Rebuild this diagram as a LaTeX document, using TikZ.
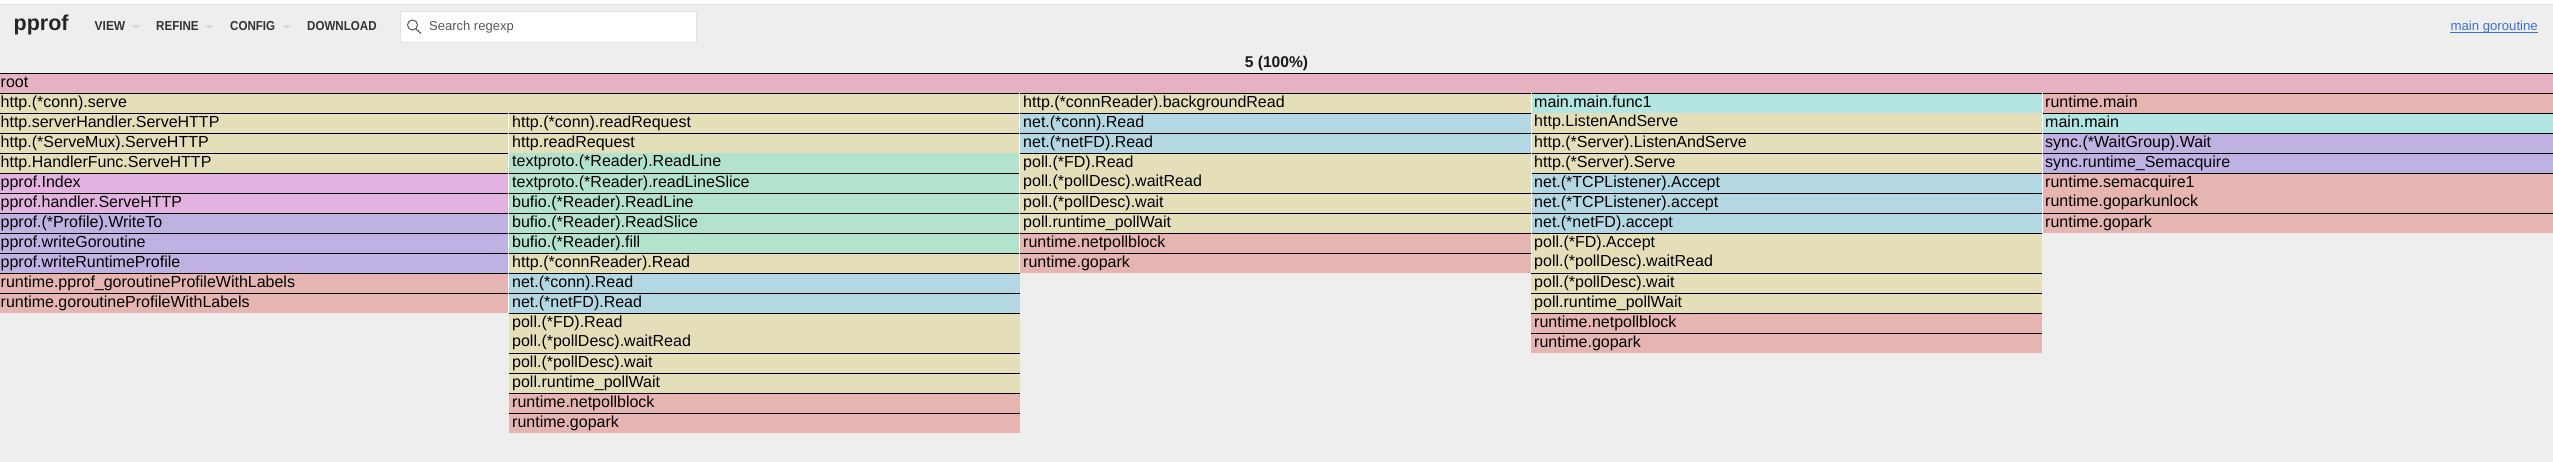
\documentclass[tikz,border=0pt]{standalone}
\usepackage{graphicx}
\usepackage{fontspec}
\setmainfont{Liberation Sans}
\definecolor{bg}{HTML}{EEEEEE}
\definecolor{cRoot}{HTML}{E6B2C1}
\definecolor{cHttp}{HTML}{E4DFB8}
\definecolor{cNet}{HTML}{B3D7E3}
\definecolor{cBufio}{HTML}{B3E3CC}
\definecolor{cMain}{HTML}{B3E6E2}
\definecolor{cRt}{HTML}{E6B5B2}
\definecolor{cSync}{HTML}{BFB2E3}
\definecolor{cIndex}{HTML}{E3B2E0}
\definecolor{cLink}{HTML}{3F6FD8}
\tikzset{
  framebox/.style={anchor=north west,inner xsep=3pt,inner ysep=0pt,minimum height=20pt,align=left,
    text height=13pt,text depth=3.5pt,font=\fontsize{16}{18}\selectfont,text=black},
  shifted/.style={text height=12pt,text depth=4.5pt},
  firstcol/.style={execute at begin node={\hspace*{-2.5pt}}},
  sepline/.style={draw=black,line width=1pt},
  gapline/.style={draw=white,line width=1pt},
  menu/.style={anchor=west,inner sep=0pt,font=\fontsize{13}{15}\selectfont\bfseries,text=black!80},
  caret/.style={fill=black!17,draw=none},
}
% #1 extra style, #2 name, #3 x0, #4 x1, #5 row, #6 colour, #7 text
\newcommand\frm[7][]{%
  \pgfmathsetmacro\fw{#4-#3-6}%
  \pgfmathsetmacro\fy{73+20*#5}%
  \node[framebox,fill=#6,text width=\fw pt,#1] (#2) at (#3,\fy) {#7};
  \draw[sepline] ([yshift=-0.5pt]#2.north west) -- ([yshift=-0.5pt]#2.north east);
}
\newcommand\frn[7][]{%
  \pgfmathsetmacro\fw{#4-#3-6}%
  \pgfmathsetmacro\fy{73+20*#5}%
  \node[framebox,shifted,fill=#6,text width=\fw pt,#1] (#2) at (#3,\fy) {#7};
}
\begin{document}
\begin{tikzpicture}[x=1pt,y=-1pt]
\useasboundingbox (0,0) rectangle (2553,462);
\fill[bg] (0,0) rectangle (2553,462);
\fill[white] (0,0) rectangle (2553,4);
\fill[black!14] (0,4) rectangle (2553,5);
% header
\node[anchor=west,inner sep=0pt,font=\fontsize{21.5}{24}\selectfont\bfseries,text=black!85] (logo) at (13.5,25) {pprof};
\node[menu] (view) at (94.5,26) {\scalebox{.92}[1]{VIEW}};
\node[menu] (refine) at (156,26) {\scalebox{.89}[1]{REFINE}};
\node[menu] (config) at (230,26) {\scalebox{.89}[1]{CONFIG}};
\node[menu] (download) at (307,26) {\scalebox{.89}[1]{DOWNLOAD}};
\fill[caret] (132,25.5) -- (140,25.5) -- (136,28.5) -- cycle;
\fill[caret] (205,25.5) -- (213,25.5) -- (209,28.5) -- cycle;
\fill[caret] (283,25.5) -- (291,25.5) -- (287,28.5) -- cycle;
\node[anchor=north west,draw=black!12,fill=white,line width=1pt,minimum width=296pt,minimum height=31pt,inner sep=0pt] (search) at (400,11.5) {};
\draw[black!65,line width=1pt] (412.5,25) circle (5pt);
\draw[black!65,line width=1.2pt] (416,29) -- (421,33.5);
\node[anchor=west,inner sep=0pt,font=\fontsize{13}{15}\selectfont,text=black!65] (searchtext) at (429,27) {Search regexp};
\node[anchor=east,inner sep=0pt,font=\fontsize{13.2}{15}\selectfont,text=cLink] (link) at (2538,27) {main goroutine};
\draw[cLink,line width=1pt] ([yshift=-2pt]link.base west) -- ([yshift=-2pt]link.base east);
\node[anchor=center,inner sep=0pt,font=\fontsize{15.6}{18}\selectfont\bfseries,text=black!90] (total) at (1276.5,63) {5 (100\%)};
% frames
\frm[firstcol]{root}{0}{2553}{0}{cRoot}{root}
\frm[firstcol]{a1}{0}{1020}{1}{cHttp}{http.(*conn).serve}
\frm[firstcol]{a2}{0}{509}{2}{cHttp}{http.serverHandler.ServeHTTP}
\frm[firstcol]{a3}{0}{509}{3}{cHttp}{http.(*ServeMux).ServeHTTP}
\frm[firstcol]{a4}{0}{509}{4}{cHttp}{http.HandlerFunc.ServeHTTP}
\frm[firstcol]{a5}{0}{509}{5}{cIndex}{pprof.Index}
\frm[firstcol]{a6}{0}{509}{6}{cIndex}{pprof.handler.ServeHTTP}
\frm[firstcol]{a7}{0}{509}{7}{cSync}{pprof.(*Profile).WriteTo}
\frm[firstcol]{a8}{0}{509}{8}{cSync}{pprof.writeGoroutine}
\frm[firstcol]{a9}{0}{509}{9}{cSync}{pprof.writeRuntimeProfile}
\frm[firstcol]{a10}{0}{509}{10}{cRt}{runtime.pprof\_goroutineProfileWithLabels}
\frm[firstcol]{a11}{0}{509}{11}{cRt}{runtime.goroutineProfileWithLabels}
% column 2
\frm{b2}{509}{1020}{2}{cHttp}{http.(*conn).readRequest}
\frm{b3}{509}{1020}{3}{cHttp}{http.readRequest}
\frn{b4}{509}{1020}{4}{cBufio}{textproto.(*Reader).ReadLine}
\frm{b5}{509}{1020}{5}{cBufio}{textproto.(*Reader).readLineSlice}
\frm{b6}{509}{1020}{6}{cBufio}{bufio.(*Reader).ReadLine}
\frm{b7}{509}{1020}{7}{cBufio}{bufio.(*Reader).ReadSlice}
\frm{b8}{509}{1020}{8}{cBufio}{bufio.(*Reader).fill}
\frm{b9}{509}{1020}{9}{cHttp}{http.(*connReader).Read}
\frm{b10}{509}{1020}{10}{cNet}{net.(*conn).Read}
\frm{b11}{509}{1020}{11}{cNet}{net.(*netFD).Read}
\frm{b12}{509}{1020}{12}{cHttp}{poll.(*FD).Read}
\frn{b13}{509}{1020}{13}{cHttp}{poll.(*pollDesc).waitRead}
\frm{b14}{509}{1020}{14}{cHttp}{poll.(*pollDesc).wait}
\frm{b15}{509}{1020}{15}{cHttp}{poll.runtime\_pollWait}
\frm{b16}{509}{1020}{16}{cRt}{runtime.netpollblock}
\frm{b17}{509}{1020}{17}{cRt}{runtime.gopark}
% column 3
\frm{c1}{1020}{1531}{1}{cHttp}{http.(*connReader).backgroundRead}
\frm{c2}{1020}{1531}{2}{cNet}{net.(*conn).Read}
\frm{c3}{1020}{1531}{3}{cNet}{net.(*netFD).Read}
\frm{c4}{1020}{1531}{4}{cHttp}{poll.(*FD).Read}
\frn{c5}{1020}{1531}{5}{cHttp}{poll.(*pollDesc).waitRead}
\frm{c6}{1020}{1531}{6}{cHttp}{poll.(*pollDesc).wait}
\frm{c7}{1020}{1531}{7}{cHttp}{poll.runtime\_pollWait}
\frm{c8}{1020}{1531}{8}{cRt}{runtime.netpollblock}
\frm{c9}{1020}{1531}{9}{cRt}{runtime.gopark}
% column 4
\frm{d1}{1531}{2042}{1}{cMain}{main.main.func1}
\frn{d2}{1531}{2042}{2}{cHttp}{http.ListenAndServe}
\frm{d3}{1531}{2042}{3}{cHttp}{http.(*Server).ListenAndServe}
\frm{d4}{1531}{2042}{4}{cHttp}{http.(*Server).Serve}
\frm{d5}{1531}{2042}{5}{cNet}{net.(*TCPListener).Accept}
\frm{d6}{1531}{2042}{6}{cNet}{net.(*TCPListener).accept}
\frm{d7}{1531}{2042}{7}{cNet}{net.(*netFD).accept}
\frm{d8}{1531}{2042}{8}{cHttp}{poll.(*FD).Accept}
\frn{d9}{1531}{2042}{9}{cHttp}{poll.(*pollDesc).waitRead}
\frm{d10}{1531}{2042}{10}{cHttp}{poll.(*pollDesc).wait}
\frm{d11}{1531}{2042}{11}{cHttp}{poll.runtime\_pollWait}
\frm{d12}{1531}{2042}{12}{cRt}{runtime.netpollblock}
\frm{d13}{1531}{2042}{13}{cRt}{runtime.gopark}
% column 5
\frm{e1}{2042}{2553}{1}{cRt}{runtime.main}
\frm{e2}{2042}{2553}{2}{cMain}{main.main}
\frm{e3}{2042}{2553}{3}{cSync}{sync.(*WaitGroup).Wait}
\frm{e4}{2042}{2553}{4}{cSync}{sync.runtime\_Semacquire}
\frm{e5}{2042}{2553}{5}{cRt}{runtime.semacquire1}
\frn{e6}{2042}{2553}{6}{cRt}{runtime.goparkunlock}
\frm{e7}{2042}{2553}{7}{cRt}{runtime.gopark}
% white gaps between columns
\draw[gapline] (508.5,113) -- (508.5,313);
\draw[gapline] (1019.5,93) -- (1019.5,273);
\draw[gapline] (1531,93) -- (1531,273);
\draw[gapline] (2042,93) -- (2042,233);
\end{tikzpicture}
\end{document}
